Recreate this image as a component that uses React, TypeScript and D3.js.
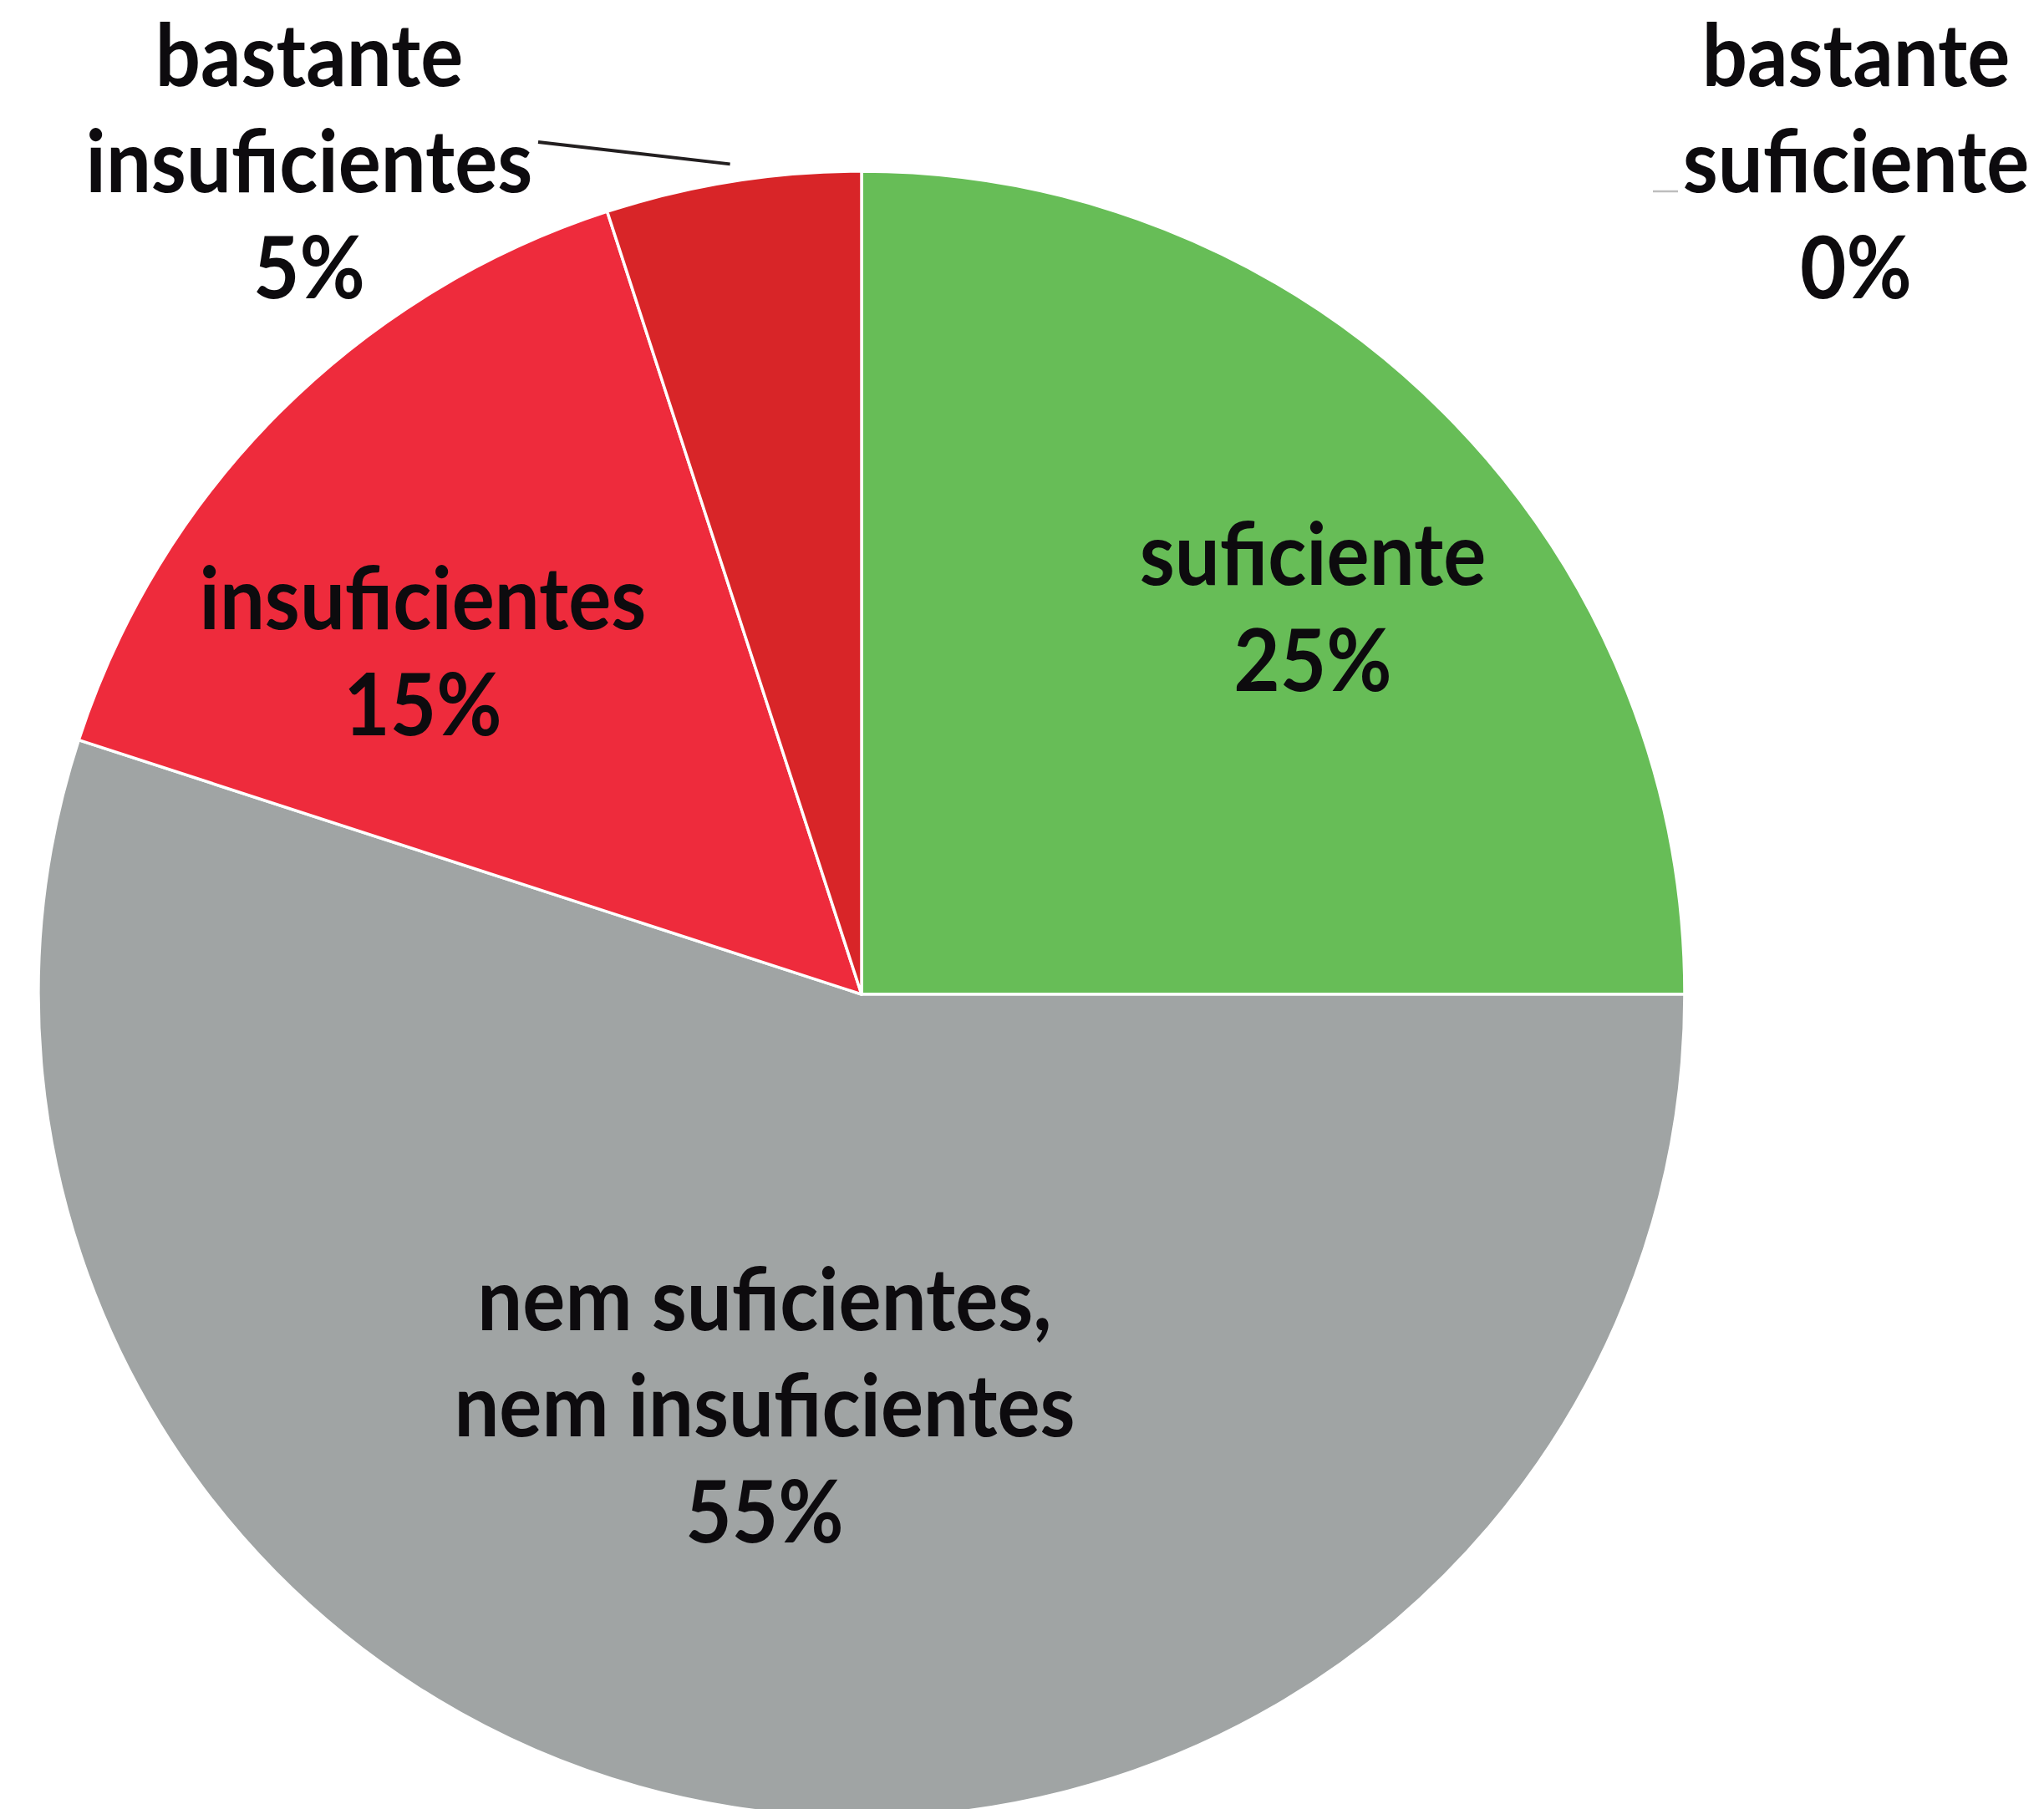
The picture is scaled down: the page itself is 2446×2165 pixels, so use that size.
import React from "react";
import * as d3 from "d3";

const categories = [
  "bastante suficiente",
  "suficiente",
  "nem suficientes, nem insuficientes",
  "insuficientes",
  "bastante insuficientes",
];
const values = [0, 25, 55, 15, 5];
const labelLines = [
  ["bastante", "suficiente"],
  ["suficiente"],
  ["nem suficientes,", "nem insuficientes"],
  ["insuficientes"],
  ["bastante", "insuficientes"],
];
const colors = ["#4E9A3E", "#67BD57", "#A0A4A4", "#EE2B3C", "#D82528"];

// layout (label anchor: centre x, first baseline y)
const W = 2446;
const H = 2165;
const CX = 1031;
const CY = 1190;
const R = 985;
const LINE_H = 127;
const FONT_SIZE = 104;
const X_SCALE = 0.92;
const labelAnchors: [number, number][] = [
  [2221, 103],
  [1571, 700],
  [915, 1592],
  [506, 753],
  [370, 103],
];

export default function App() {
  const pie = d3
    .pie<number>()
    .sort(null)
    .value((d) => d)
    .startAngle(0)
    .endAngle(2 * Math.PI);
  const arcs = pie(values);
  const arcGen = d3.arc<d3.PieArcDatum<number>>().innerRadius(0).outerRadius(R);
  const leaderArc = d3
    .arc<d3.PieArcDatum<number>>()
    .innerRadius(R + 21)
    .outerRadius(R + 21);
  const fmt = d3.format(".0%");

  return (
    <svg
      width={W}
      height={H}
      style={{ position: "absolute", left: 0, top: 0, background: "#fff" }}
      fontFamily="Lato, 'Open Sans', sans-serif"
      fontWeight="bold"
    >
      <rect x={0} y={0} width={W} height={H} fill="#fff" />
      <g transform={`translate(${CX},${CY})`}>
        {arcs.map((a, i) =>
          a.value > 0 ? (
            <path
              key={categories[i]}
              d={arcGen(a) || ""}
              fill={colors[i]}
              stroke="#fff"
              strokeWidth={3.5}
              strokeLinejoin="round"
            />
          ) : null
        )}
      </g>
      {/* leader line for 5% */}
      {(() => {
        const i = 4;
        const [px, py] = leaderArc.centroid(arcs[i]);
        const [ax, ay] = labelAnchors[i];
        return (
          <line
            x1={CX + px}
            y1={CY + py}
            x2={ax + 274}
            y2={ay + 67}
            stroke="#231F20"
            strokeWidth={4}
          />
        );
      })()}
      {/* short leader for 0% */}
      {(() => {
        const [ax, ay] = labelAnchors[0];
        return (
          <line
            x1={ax - 243}
            y1={ay + LINE_H - 1}
            x2={ax - 213}
            y2={ay + LINE_H - 1}
            stroke="#BDBDBD"
            strokeWidth={2.5}
          />
        );
      })()}
      {arcs.map((a, i) => {
        const [ax, ay] = labelAnchors[i];
        const lines = [...labelLines[i], fmt(values[i] / 100)];
        return (
          <g
            key={"t" + i}
            transform={`translate(${ax},0) scale(${X_SCALE},1)`}
          >
            <text
              x={0}
              y={ay}
              textAnchor="middle"
              fontSize={FONT_SIZE}
              fill="#0D0B0E"
            >
              {lines.map((l, j) => (
                <tspan key={j} x={0} y={ay + j * LINE_H}>
                  {l}
                </tspan>
              ))}
            </text>
          </g>
        );
      })}
    </svg>
  );
}
